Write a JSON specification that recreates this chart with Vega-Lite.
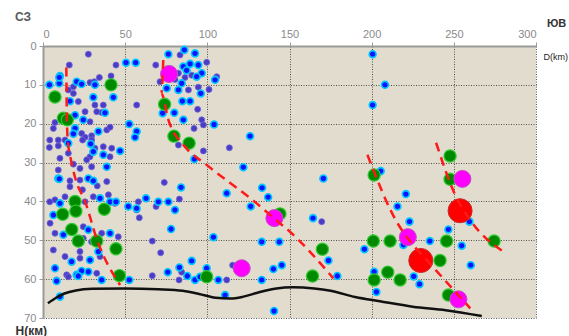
{
"$schema": "https://vega.github.io/schema/vega-lite/v6.json",
"width": 493, "height": 272,
"autosize": {"type": "none"},
"padding": {"left": 43, "top": 46, "right": 33, "bottom": 18},
"background": "white",
"config": {"view": {"fill": "#e2dccf", "stroke": null}, "font": "Liberation Sans"},
"datasets": {
"pts": [
{"D":27.6,"H":2.1,"kind":"d"},{"D":16,"H":4.9,"kind":"d"},{"D":44.4,"H":4.9,"kind":"d"},{"D":41.4,"H":7.7,"kind":"d"},{"D":34.3,"H":8.1,"kind":"d"},{"D":28.6,"H":9.4,"kind":"d"},{"D":31.2,"H":9.2,"kind":"d"},{"D":18.5,"H":10.5,"kind":"d"},{"D":15.4,"H":11.3,"kind":"d"},{"D":18.5,"H":12.2,"kind":"d"},{"D":21.5,"H":14.3,"kind":"d"},{"D":31.6,"H":15.2,"kind":"d"},{"D":36.7,"H":15.2,"kind":"d"},{"D":35.7,"H":17.1,"kind":"d"},{"D":32.7,"H":16.9,"kind":"d"},{"D":25.6,"H":16.9,"kind":"d"},{"D":28.6,"H":19.5,"kind":"d"},{"D":7.3,"H":19.7,"kind":"d"},{"D":6.3,"H":21.2,"kind":"d"},{"D":23.5,"H":22.5,"kind":"d"},{"D":25.6,"H":23.5,"kind":"d"},{"D":29.6,"H":23.1,"kind":"d"},{"D":38.8,"H":21.6,"kind":"d"},{"D":40.8,"H":20.9,"kind":"d"},{"D":29.6,"H":24.2,"kind":"d"},{"D":24.1,"H":24.2,"kind":"d"},{"D":13.4,"H":24.2,"kind":"d"},{"D":9.3,"H":24.2,"kind":"d"},{"D":3.9,"H":26.1,"kind":"d"},{"D":9.3,"H":25.7,"kind":"d"},{"D":31.6,"H":26.3,"kind":"d"},{"D":36.7,"H":25.9,"kind":"d"},{"D":41.8,"H":26.3,"kind":"d"},{"D":40.8,"H":28.5,"kind":"d"},{"D":15.4,"H":27.6,"kind":"d"},{"D":10.3,"H":28.9,"kind":"d"},{"D":28.6,"H":28.5,"kind":"d"},{"D":29.6,"H":31.1,"kind":"d"},{"D":22.5,"H":31.5,"kind":"d"},{"D":18.5,"H":30.4,"kind":"d"},{"D":26.6,"H":29.3,"kind":"d"},{"D":4.1,"H":24.2,"kind":"d"},{"D":9.3,"H":31.9,"kind":"d"},{"D":4.1,"H":40.1,"kind":"d"},{"D":57,"H":15.2,"kind":"d"},
{"D":16.4,"H":34.7,"kind":"d"},{"D":22.5,"H":34.5,"kind":"d"},{"D":38.8,"H":34.9,"kind":"d"},{"D":7.3,"H":39.6,"kind":"d"},{"D":13.4,"H":38.8,"kind":"d"},{"D":25.6,"H":40.1,"kind":"d"},{"D":30.6,"H":38.8,"kind":"d"},{"D":39.8,"H":38.3,"kind":"d"},{"D":43.8,"H":40.5,"kind":"d"},{"D":4.3,"H":45.6,"kind":"d"},{"D":7.3,"H":48.2,"kind":"d"},{"D":24.5,"H":46.5,"kind":"d"},{"D":24.5,"H":49.5,"kind":"d"},{"D":29.6,"H":50.4,"kind":"d"},{"D":33.7,"H":49.5,"kind":"d"},{"D":35.7,"H":48.2,"kind":"d"},{"D":45.8,"H":49.1,"kind":"d"},{"D":6.3,"H":52.5,"kind":"d"},{"D":13.4,"H":54.2,"kind":"d"},{"D":22.5,"H":54.6,"kind":"d"},{"D":22.5,"H":52.9,"kind":"d"},{"D":34.7,"H":54.2,"kind":"d"},{"D":14.4,"H":58.9,"kind":"d"},{"D":32.7,"H":58.5,"kind":"d"},{"D":15.4,"H":59.4,"kind":"d"},{"D":8.3,"H":60.2,"kind":"d"},{"D":16.4,"H":36.2,"kind":"d"},{"D":24,"H":37,"kind":"d"},{"D":33,"H":36,"kind":"d"},
{"D":83.4,"H":2.3,"kind":"d"},{"D":99.6,"H":4.2,"kind":"d"},{"D":68.6,"H":4.9,"kind":"d"},{"D":82.4,"H":7,"kind":"d"},{"D":90.5,"H":7.5,"kind":"d"},{"D":86.4,"H":8.1,"kind":"d"},{"D":80.3,"H":8.6,"kind":"d"},{"D":88.5,"H":11.3,"kind":"d"},{"D":94.5,"H":10.6,"kind":"d"},{"D":101,"H":11.2,"kind":"d"},{"D":105.7,"H":7.9,"kind":"d"},{"D":71.2,"H":9.2,"kind":"d"},{"D":94.1,"H":16.3,"kind":"d"},{"D":96.6,"H":19,"kind":"d"},{"D":97.6,"H":20.3,"kind":"d"},{"D":91.9,"H":21.2,"kind":"d"},{"D":97.6,"H":27,"kind":"d"},{"D":113.4,"H":26.2,"kind":"d"},{"D":82.4,"H":25.5,"kind":"d"},{"D":73.8,"H":35.1,"kind":"d"},{"D":58,"H":40.1,"kind":"d"},{"D":57,"H":42.2,"kind":"d"},{"D":58.6,"H":44.2,"kind":"d"},{"D":68.8,"H":41.3,"kind":"d"},{"D":83,"H":39.4,"kind":"d"},{"D":66.5,"H":50.2,"kind":"d"},{"D":71.6,"H":53.2,"kind":"d"},{"D":84.4,"H":58.2,"kind":"d"},{"D":66.5,"H":59.1,"kind":"d"},{"D":82.8,"H":60.2,"kind":"d"},{"D":111.8,"H":60.2,"kind":"d"},{"D":115.4,"H":56.4,"kind":"d"},{"D":169.6,"H":45.2,"kind":"d"},
{"D":50.5,"H":4.3,"kind":"b"},{"D":56.4,"H":4.3,"kind":"b"},{"D":10.3,"H":7.7,"kind":"b"},{"D":3.9,"H":10,"kind":"b"},{"D":9.9,"H":9.6,"kind":"b"},{"D":20.5,"H":9.2,"kind":"b"},{"D":23.5,"H":9.8,"kind":"b"},{"D":16.4,"H":14.2,"kind":"b"},{"D":30.6,"H":13.2,"kind":"b"},{"D":42.8,"H":13.2,"kind":"b"},{"D":37.7,"H":17.2,"kind":"b"},{"D":19.5,"H":17.8,"kind":"b"},{"D":24.5,"H":19,"kind":"b"},{"D":52.5,"H":20.1,"kind":"b"},{"D":57,"H":22,"kind":"b"},{"D":56,"H":23.5,"kind":"b"},{"D":19.5,"H":21.2,"kind":"b"},{"D":18.5,"H":22.6,"kind":"b"},{"D":33.7,"H":22,"kind":"b"},{"D":15.4,"H":25,"kind":"b"},{"D":29,"H":25.2,"kind":"b"},{"D":46.9,"H":27,"kind":"b"},{"D":30.6,"H":27.2,"kind":"b"},{"D":36.7,"H":28,"kind":"b"},{"D":38.8,"H":31.1,"kind":"b"},{"D":9.3,"H":34.1,"kind":"b"},{"D":9.9,"H":8.1,"kind":"b"},{"D":31.6,"H":10,"kind":"b"},
{"D":9.9,"H":34.2,"kind":"b"},{"D":27.6,"H":34.1,"kind":"b"},{"D":30.6,"H":34.7,"kind":"b"},{"D":10.3,"H":40.5,"kind":"b"},{"D":34.7,"H":39.2,"kind":"b"},{"D":40.8,"H":40.1,"kind":"b"},{"D":51.9,"H":41.3,"kind":"b"},{"D":57,"H":41.8,"kind":"b"},{"D":6.3,"H":43.5,"kind":"b"},{"D":12.4,"H":48.6,"kind":"b"},{"D":27.6,"H":47.3,"kind":"b"},{"D":40.8,"H":48.2,"kind":"b"},{"D":17.4,"H":55.5,"kind":"b"},{"D":28.6,"H":55.1,"kind":"b"},{"D":33.7,"H":52.9,"kind":"b"},{"D":7.3,"H":57.2,"kind":"b"},{"D":8.3,"H":60.5,"kind":"b"},{"D":20.5,"H":58.9,"kind":"b"},{"D":23.5,"H":57.9,"kind":"b"},{"D":35.7,"H":60.2,"kind":"b"},{"D":52.5,"H":60.2,"kind":"b"},{"D":10.3,"H":64.5,"kind":"b"},{"D":27.6,"H":58.1,"kind":"b"},{"D":21.5,"H":59.2,"kind":"b"},{"D":44.4,"H":40.1,"kind":"b"},
{"D":86,"H":1,"kind":"b"},{"D":76.3,"H":2.1,"kind":"b"},{"D":92.5,"H":1.9,"kind":"b"},{"D":94.5,"H":4.9,"kind":"b"},{"D":89.5,"H":4.6,"kind":"b"},{"D":85.4,"H":5.3,"kind":"b"},{"D":87.4,"H":6.3,"kind":"b"},{"D":96.6,"H":7,"kind":"b"},{"D":93.5,"H":7.9,"kind":"b"},{"D":84.4,"H":9.6,"kind":"b"},{"D":75.3,"H":10.9,"kind":"b"},{"D":82.4,"H":11.3,"kind":"b"},{"D":104.7,"H":8.7,"kind":"b"},{"D":96,"H":12.2,"kind":"b"},{"D":84.8,"H":14.2,"kind":"b"},{"D":89.5,"H":14.2,"kind":"b"},{"D":79.9,"H":17.2,"kind":"b"},{"D":85.4,"H":19,"kind":"b"},{"D":104.1,"H":20.2,"kind":"b"},{"D":92.1,"H":29.1,"kind":"b"},{"D":72.8,"H":17.3,"kind":"b"},{"D":126,"H":23.2,"kind":"b"},{"D":121.9,"H":31.2,"kind":"b"},{"D":84,"H":36.4,"kind":"b"},{"D":62.7,"H":39.2,"kind":"b"},{"D":70.2,"H":40.1,"kind":"b"},{"D":76.3,"H":40.1,"kind":"b"},{"D":80.3,"H":42.2,"kind":"b"},{"D":77.9,"H":47.1,"kind":"b"},{"D":103.7,"H":49.2,"kind":"b"},{"D":90.5,"H":55.3,"kind":"b"},{"D":83,"H":57,"kind":"b"},{"D":75.9,"H":58.2,"kind":"b"},{"D":87.8,"H":59.2,"kind":"b"},{"D":92.5,"H":60.2,"kind":"b"},{"D":95.6,"H":59.4,"kind":"b"},{"D":106.7,"H":60.2,"kind":"b"},{"D":110.8,"H":64.1,"kind":"b"},{"D":99.6,"H":57.2,"kind":"b"},{"D":111.8,"H":37.9,"kind":"b"},{"D":133.3,"H":36.5,"kind":"b"},{"D":137,"H":38.9,"kind":"b"},
{"D":126.4,"H":41.3,"kind":"b"},{"D":133.1,"H":50.4,"kind":"b"},{"D":143.8,"H":50.4,"kind":"b"},{"D":164.3,"H":44.3,"kind":"b"},{"D":140.2,"H":57.4,"kind":"b"},{"D":145.3,"H":56.4,"kind":"b"},{"D":133.1,"H":60.2,"kind":"b"},{"D":173.7,"H":55.2,"kind":"b"},{"D":179.1,"H":59.2,"kind":"b"},{"D":195.6,"H":52.3,"kind":"b"},{"D":140.6,"H":68.2,"kind":"b"},{"D":170.6,"H":34.1,"kind":"b"},
{"D":200.6,"H":2.1,"kind":"b"},{"D":208.1,"H":10,"kind":"b"},{"D":200.6,"H":15.2,"kind":"b"},{"D":205.5,"H":32.2,"kind":"b"},{"D":220.8,"H":38.1,"kind":"b"},{"D":215.7,"H":41.3,"kind":"b"},{"D":223,"H":45.2,"kind":"b"},{"D":201.5,"H":58.1,"kind":"b"},{"D":202.9,"H":63.3,"kind":"b"},{"D":219.3,"H":51.2,"kind":"b"},{"D":225.6,"H":59.3,"kind":"b"},{"D":229.1,"H":61.3,"kind":"b"},{"D":235.4,"H":50.2,"kind":"b"},{"D":259.5,"H":45.2,"kind":"b"},{"D":246.7,"H":47.2,"kind":"b"},{"D":254.8,"H":51.4,"kind":"b"},{"D":260.3,"H":56.4,"kind":"b"},
{"D":7.3,"H":13.1,"kind":"g"},{"D":12.4,"H":18.6,"kind":"g"},{"D":14.8,"H":19,"kind":"g"},{"D":41.4,"H":10,"kind":"g"},{"D":74,"H":15,"kind":"g"},{"D":79.7,"H":23.2,"kind":"g"},{"D":88.9,"H":25,"kind":"g"},{"D":19.5,"H":40,"kind":"g"},{"D":12,"H":43.3,"kind":"g"},{"D":20,"H":42.5,"kind":"g"},{"D":37.3,"H":42,"kind":"g"},{"D":17.5,"H":47.2,"kind":"g"},{"D":21.5,"H":50.2,"kind":"g"},{"D":32.7,"H":50.2,"kind":"g"},{"D":44.4,"H":52.2,"kind":"g"},{"D":46.5,"H":59.1,"kind":"g"},{"D":99.6,"H":59.4,"kind":"g"},{"D":144.2,"H":43.2,"kind":"g"},{"D":170,"H":52.3,"kind":"g"},{"D":164,"H":59.2,"kind":"g"},{"D":201.5,"H":33.2,"kind":"g"},{"D":201,"H":50.2,"kind":"g"},{"D":211.2,"H":50.2,"kind":"g"},{"D":201.5,"H":60.2,"kind":"g"},{"D":209.8,"H":58.2,"kind":"g"},{"D":217.3,"H":60.2,"kind":"g"},{"D":247.7,"H":28.3,"kind":"g"},{"D":247.7,"H":34.3,"kind":"g"},{"D":245.6,"H":50.2,"kind":"g"},{"D":241.6,"H":55.2,"kind":"g"},{"D":274.5,"H":50.2,"kind":"g"},{"D":246.7,"H":64.1,"kind":"g"},
{"D":76.7,"H":7.2,"kind":"m"},{"D":140.8,"H":44.3,"kind":"m"},{"D":120.9,"H":57.2,"kind":"m"},{"D":222,"H":49.2,"kind":"m"},{"D":255.2,"H":34.2,"kind":"m"},{"D":252.8,"H":65.2,"kind":"m"},
{"D":229.9,"H":55.2,"kind":"r"},{"D":253.8,"H":42.4,"kind":"r"}
],
"lines": [
{"line":"f1","ord":1,"D":14.2,"H":5.5},{"line":"f1","ord":2,"D":14.4,"H":15},{"line":"f1","ord":3,"D":15,"H":24},{"line":"f1","ord":4,"D":17,"H":29.3},{"line":"f1","ord":5,"D":20,"H":34.5},{"line":"f1","ord":6,"D":25.6,"H":40},{"line":"f1","ord":7,"D":33,"H":50},{"line":"f1","ord":8,"D":46.9,"H":61.5},
{"line":"f2","ord":1,"D":73.2,"H":3.6},{"line":"f2","ord":2,"D":72,"H":12.2},{"line":"f2","ord":3,"D":76.3,"H":19},{"line":"f2","ord":4,"D":86.4,"H":25.9},{"line":"f2","ord":5,"D":99.6,"H":30.6},{"line":"f2","ord":6,"D":130,"H":40.5},{"line":"f2","ord":7,"D":141,"H":44.5},{"line":"f2","ord":8,"D":150.3,"H":47.8},{"line":"f2","ord":9,"D":176.7,"H":59.8},
{"line":"f3","ord":1,"D":197.4,"H":28},{"line":"f3","ord":2,"D":216.3,"H":46},{"line":"f3","ord":3,"D":222,"H":49.5},{"line":"f3","ord":4,"D":235.5,"H":56},{"line":"f3","ord":5,"D":260,"H":67.5},
{"line":"f4","ord":1,"D":239.2,"H":24.9},{"line":"f4","ord":2,"D":250.8,"H":38.3},{"line":"f4","ord":3,"D":260,"H":44.8},{"line":"f4","ord":4,"D":282.2,"H":53.5},
{"line":"moho","ord":1,"D":3,"H":66.2},{"line":"moho","ord":2,"D":8,"H":64.8},{"line":"moho","ord":3,"D":13,"H":63.7},{"line":"moho","ord":4,"D":20,"H":62.9},{"line":"moho","ord":5,"D":30,"H":62.5},{"line":"moho","ord":6,"D":50,"H":62.4},{"line":"moho","ord":7,"D":70,"H":62.6},{"line":"moho","ord":8,"D":85,"H":63},{"line":"moho","ord":9,"D":95,"H":63.8},{"line":"moho","ord":10,"D":105,"H":64.8},{"line":"moho","ord":11,"D":114,"H":65},{"line":"moho","ord":12,"D":122,"H":64.5},{"line":"moho","ord":13,"D":132,"H":63.3},{"line":"moho","ord":14,"D":142,"H":62.4},{"line":"moho","ord":15,"D":152,"H":62.1},{"line":"moho","ord":16,"D":165,"H":62.4},{"line":"moho","ord":17,"D":175,"H":63},{"line":"moho","ord":18,"D":190,"H":64.6},{"line":"moho","ord":19,"D":205,"H":65.7},{"line":"moho","ord":20,"D":225,"H":67.1},{"line":"moho","ord":21,"D":245,"H":68},{"line":"moho","ord":22,"D":267,"H":69.5}
],
"corners": [
{"label":"СЗ","D":0,"H":0,"side":"nw"},{"label":"ЮВ","D":300,"H":0,"side":"se"}
]
},
"data": {"name": "pts"},
"encoding": {
"x": {"field": "D", "type": "quantitative", "scale": {"domain": [0, 300], "nice": false, "zero": false},
 "axis": {"orient": "top", "values": [0,50,100,150,200,250,300], "grid": true, "gridColor": "#3a3a3a", "gridDash": [1, 1.5], "gridWidth": 1, "gridOpacity": 0.85,
  "domainColor": "#9a9a9a", "domainWidth": 2, "tickColor": "#9a9a9a", "tickSize": 4, "labelColor": "#8a8a8a", "labelFont": "Liberation Sans", "labelFontSize": 11, "labelPadding": 3,
  "title": "D(km)", "titleX": 500, "titleY": 10, "titleAlign": "left", "titleBaseline": "middle", "titleAngle": 0, "titleFontSize": 9, "titleFontWeight": "normal", "titleColor": "#222", "titleFont": "Liberation Sans"}},
"y": {"field": "H", "type": "quantitative", "scale": {"domain": [0, 70], "reverse": true, "nice": false, "zero": false},
 "axis": {"orient": "left", "values": [0,10,20,30,40,50,60,70], "grid": true, "gridColor": "#3a3a3a", "gridDash": [1, 1.5], "gridWidth": 1, "gridOpacity": 0.85,
  "domainColor": "#9a9a9a", "domainWidth": 2, "tickColor": "#9a9a9a", "tickSize": 4, "labelColor": "#8a8a8a", "labelFont": "Liberation Sans", "labelFontSize": 11, "labelPadding": 3,
  "title": "H(км)", "titleX": -28, "titleY": 284, "titleAlign": "left", "titleBaseline": "middle", "titleAngle": 0, "titleFontSize": 12, "titleFontWeight": "bold", "titleColor": "#333", "titleFont": "Liberation Sans"}}
},
"layer": [
{"transform": [{"filter": "datum.kind == 'd'"}], "mark": {"type": "point", "shape": "circle", "filled": true, "size": 36, "fill": "#4a3cc4", "stroke": "#6d64dc", "strokeWidth": 0.8, "opacity": 1}},
{"transform": [{"filter": "datum.kind == 'b'"}], "mark": {"type": "point", "shape": "circle", "filled": true, "size": 48, "fill": "#0a14ff", "stroke": "#00c8ff", "strokeWidth": 1.6, "opacity": 1}},
{"transform": [{"filter": "datum.kind == 'g'"}], "mark": {"type": "point", "shape": "circle", "filled": true, "size": 150, "fill": "#008a00", "stroke": "#33cc33", "strokeWidth": 1.2, "opacity": 1}},
{"transform": [{"filter": "datum.kind == 'm'"}], "mark": {"type": "point", "shape": "circle", "filled": true, "size": 290, "fill": "#ff00ff", "stroke": "#c050c0", "strokeWidth": 1, "opacity": 1}},
{"transform": [{"filter": "datum.kind == 'r'"}], "mark": {"type": "point", "shape": "circle", "filled": true, "size": 580, "fill": "#ff0000", "stroke": "#c03030", "strokeWidth": 1, "opacity": 1}},
{"data": {"name": "lines"}, "transform": [{"filter": "datum.line != 'moho'"}], "mark": {"type": "line", "color": "#ff1a1a", "strokeWidth": 2.5, "strokeDash": [9, 6], "interpolate": "monotone"},
 "encoding": {"detail": {"field": "line"}, "order": {"field": "ord"}}},
{"data": {"name": "lines"}, "transform": [{"filter": "datum.line == 'moho'"}], "mark": {"type": "line", "color": "#111", "strokeWidth": 2.5, "interpolate": "monotone"},
 "encoding": {"order": {"field": "ord"}}},
{"data": {"name": "corners"}, "transform": [{"filter": "datum.side == 'nw'"}], "mark": {"type": "text", "align": "left", "baseline": "middle", "dx": -28, "dy": -29, "fontSize": 12, "fontWeight": "bold", "fill": "#5a5a5a", "font": "Liberation Sans", "clip": false},
 "encoding": {"text": {"field": "label"}}},
{"data": {"name": "corners"}, "transform": [{"filter": "datum.side == 'se'"}], "mark": {"type": "text", "align": "left", "baseline": "middle", "dx": 11, "dy": -22, "fontSize": 11, "fontWeight": "bold", "fill": "#333", "font": "Liberation Sans", "clip": false},
 "encoding": {"text": {"field": "label"}}}
]
}
